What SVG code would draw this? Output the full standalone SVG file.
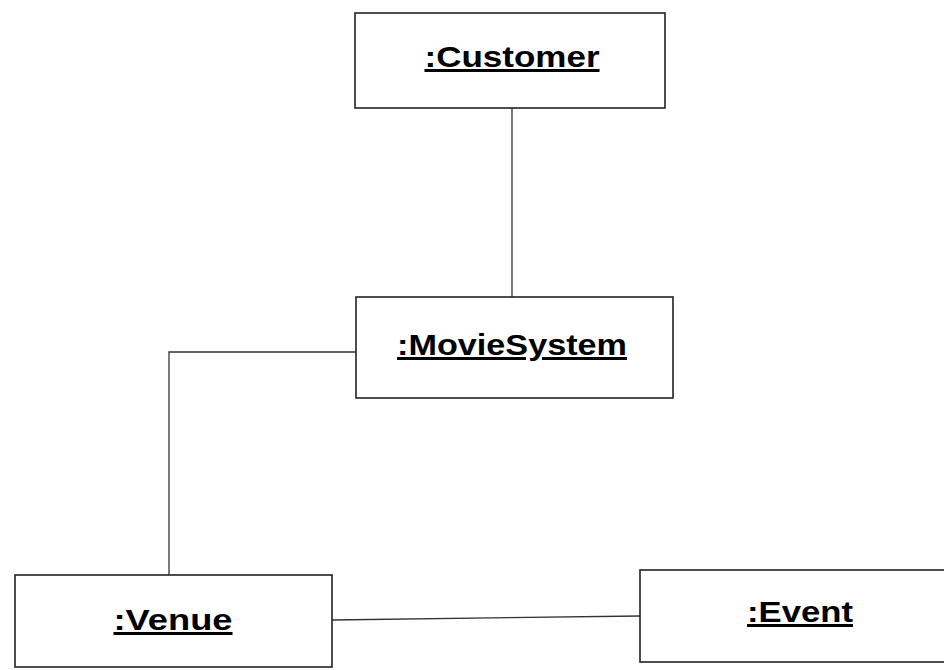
<svg xmlns="http://www.w3.org/2000/svg" width="944" height="670" viewBox="0 0 944 670">
<style>
.box{fill:#fff;stroke:#222;stroke-width:1.6}
.lbl{font-family:"Liberation Sans",Arial,sans-serif;font-weight:bold;font-size:30px;fill:#000;text-anchor:middle;text-decoration:underline}
.con{fill:none;stroke:#333;stroke-width:1.3}
</style>
<rect width="944" height="670" fill="#fff"/>
<g id="connectors">
<line class="con" x1="512" y1="108" x2="512" y2="297"/>
<polyline class="con" points="356,352 169,352 169,575"/>
<line class="con" x1="332" y1="620" x2="640" y2="616"/>
</g>
<g id="customer">
<rect class="box" x="355" y="13" width="310" height="95"/>
<text class="lbl" x="512" y="67" textLength="175" lengthAdjust="spacingAndGlyphs">:Customer</text>
</g>
<g id="moviesystem">
<rect class="box" x="356" y="297" width="317" height="101"/>
<text class="lbl" x="512" y="355" textLength="230" lengthAdjust="spacingAndGlyphs">:MovieSystem</text>
</g>
<g id="venue">
<rect class="box" x="15" y="575" width="317" height="92"/>
<text class="lbl" x="173" y="630" textLength="119" lengthAdjust="spacingAndGlyphs">:Venue</text>
</g>
<g id="event">
<rect class="box" x="640" y="570" width="320" height="92"/>
<text class="lbl" x="800" y="622" textLength="106" lengthAdjust="spacingAndGlyphs">:Event</text>
</g>
</svg>
